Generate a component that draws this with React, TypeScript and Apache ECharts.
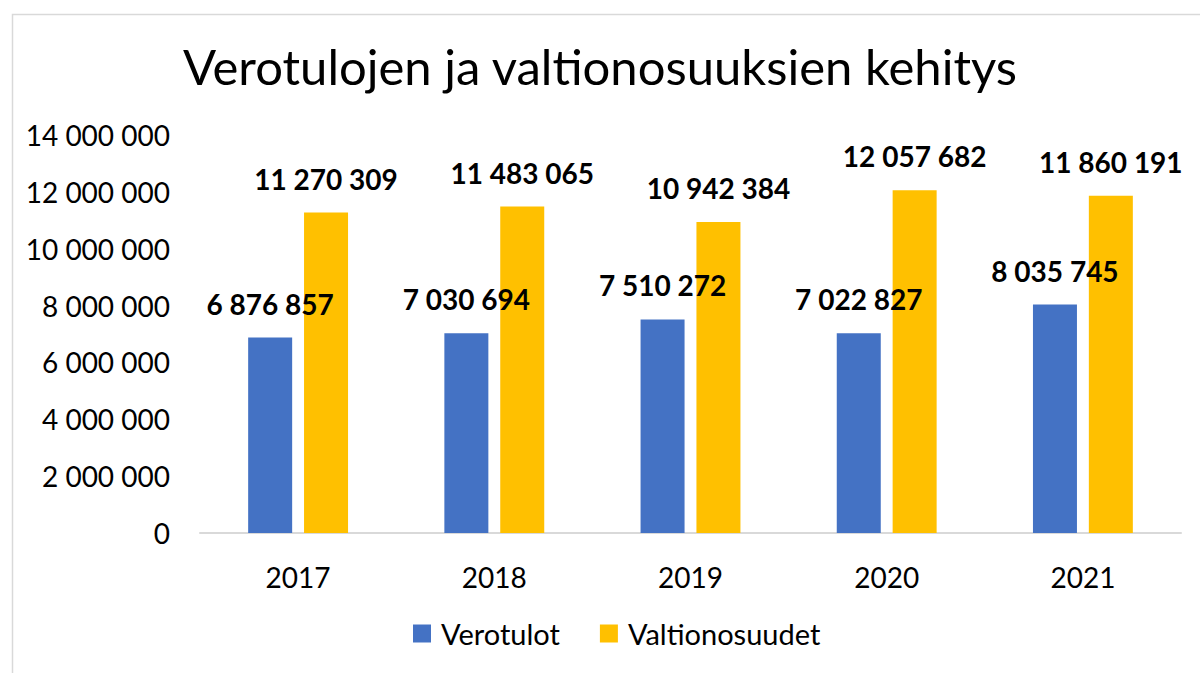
import React, { useEffect, useRef } from "react";
import * as echarts from "echarts";

const categories = ["2017", "2018", "2019", "2020", "2021"];
const verotulot = [6876857, 7030694, 7510272, 7022827, 8035745];
const valtionosuudet = [11270309, 11483065, 10942384, 12057682, 11860191];
const seriesNames = ["Verotulot", "Valtionosuudet"];

const fmt = (v: number) => String(Math.round(v)).replace(/\B(?=(\d{3})+(?!\d))/g, " ");

const FONT = "Lato, 'Open Sans', sans-serif";

export default function App() {
  const ref = useRef<HTMLDivElement>(null);
  useEffect(() => {
    if (!ref.current) return;
    const chart = echarts.init(ref.current, undefined, { renderer: "svg" });
    const label = {
      show: true,
      position: "top",
      distance: 20,
      fontSize: 28,
      fontWeight: "bold",
      color: "#000",
      fontFamily: FONT,
      formatter: (p: any) => fmt(p.value),
    };
    chart.setOption({
      animation: false,
      backgroundColor: "#fff",
      textStyle: { fontFamily: FONT },
      graphic: [
        {
          type: "rect",
          left: 10,
          top: 12,
          shape: { width: 1200, height: 700 },
          style: { fill: "none", stroke: "#d9d9d9", lineWidth: 1.5 },
          silent: true,
        },
      ],
      title: {
        text: "Verotulojen ja valtionosuuksien kehitys",
        left: "center",
        top: 36,
        textStyle: { fontSize: 49, fontWeight: "normal", color: "#000", fontFamily: FONT },
      },
      legend: {
        bottom: 20,
        left: 408,
        icon: "rect",
        itemWidth: 18,
        itemHeight: 18,
        itemGap: 40,
        textStyle: { fontSize: 29, color: "#000", fontFamily: FONT, padding: [0, 0, 0, 5] },
        data: seriesNames,
      },
      grid: { left: 200, right: 19, top: 135, bottom: 140, containLabel: false },
      xAxis: {
        type: "category",
        data: categories,
        axisLine: { lineStyle: { color: "#d9d9d9", width: 2 } },
        axisTick: { show: false },
        axisLabel: { fontSize: 28, color: "#000", margin: 30, fontFamily: FONT },
      },
      yAxis: {
        type: "value",
        min: 0,
        max: 14000000,
        interval: 2000000,
        axisLine: { show: false },
        axisTick: { show: false },
        splitLine: { show: false },
        axisLabel: { fontSize: 28, color: "#000", margin: 30, fontFamily: FONT, formatter: (v: number) => fmt(v) },
      },
      series: [
        {
          name: seriesNames[0],
          type: "bar",
          data: verotulot,
          barWidth: 44,
          barGap: "27%",
          itemStyle: { color: "#4472C4" },
          label,
        },
        {
          name: seriesNames[1],
          type: "bar",
          data: valtionosuudet,
          barWidth: 44,
          itemStyle: { color: "#FFC000" },
          label,
        },
      ],
    });
    return () => chart.dispose();
  }, []);
  return (
    <div
      ref={ref}
      style={{ position: "fixed", left: 0, top: 0, width: 1200, height: 673 }}
    />
  );
}
